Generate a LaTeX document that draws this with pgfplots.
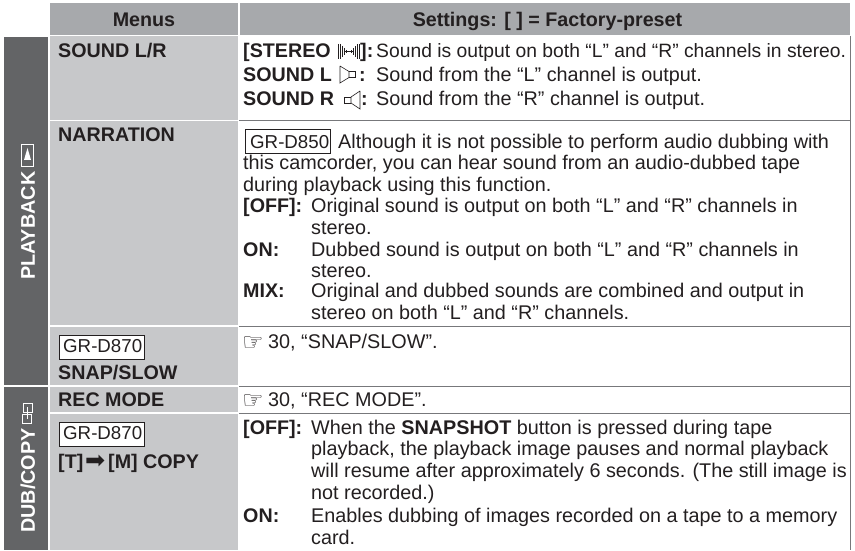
\documentclass[border=0pt]{standalone}
\usepackage{pgfplots}
\pgfplotsset{compat=1.18}
\usepackage{fontspec}
\setmainfont{Liberation Sans}
\newfontfamily\djv{DejaVu Sans}
\definecolor{hdr}{HTML}{A7A9AC}
\definecolor{lgt}{HTML}{C7C8CA}
\definecolor{drk}{HTML}{636466}
\definecolor{txt}{HTML}{231F20}
\definecolor{rule}{HTML}{77787B}
\newcommand{\T}[3]{\node[anchor=base west,inner sep=0pt,text=txt,font=\fontsize{19.8}{22}\selectfont] at (axis cs:#1,#2) {#3};}
\newcommand{\B}[3]{\node[anchor=base west,inner sep=0pt,text=txt,font=\fontsize{19.7}{22}\selectfont\bfseries] at (axis cs:#1,#2) {#3};}
\newcommand{\Cell}[2]{\addplot[fill=#1,draw=none,forget plot] coordinates {#2} --cycle;}
\newcommand{\R}[2]{\addplot[rule,line width=#1,forget plot] coordinates {#2};}
\newcommand{\GR}[7]{\addplot[fill=white,draw=txt,line width=0.9pt,forget plot] coordinates {(#1,#3)(#2,#3)(#2,#4)(#1,#4)} --cycle;
\node[anchor=base west,inner sep=0pt,text=txt,font=\fontsize{18.7}{20}\selectfont] at (axis cs:#5,#6) {#7};}
\newcommand{\Ln}[1]{\addplot[txt,line width=0.6pt,forget plot] coordinates {#1};}
\newcommand{\W}[1]{\addplot[white,line width=0.8pt,forget plot] coordinates {#1};}
\begin{document}
\begin{tikzpicture}
\begin{axis}[anchor=south west,at={(0,0)},scale only axis,width=855pt,height=550pt,xmin=0,xmax=855,ymin=0,ymax=550,y dir=reverse,hide axis,clip=false]
% header
\Cell{hdr}{(50,3)(238,3)(238,35)(50,35)}
\Cell{hdr}{(239.5,3)(850,3)(850,35)(239.5,35)}
% left
\Cell{drk}{(4,37)(48,37)(48,385)(4,385)}
\Cell{drk}{(4,387)(48,387)(48,550)(4,550)}
% menus
\Cell{lgt}{(50,36.5)(238,36.5)(238,120)(50,120)}
\Cell{lgt}{(50,121.5)(238,121.5)(238,325.5)(50,325.5)}
\Cell{lgt}{(50,327.5)(238,327.5)(238,385)(50,385)}
\Cell{lgt}{(50,387)(238,387)(238,412.5)(50,412.5)}
\Cell{lgt}{(50,414.5)(238,414.5)(238,550)(50,550)}
% rules
\R{0.8pt}{(239,120.5)(850,120.5)}
\R{0.8pt}{(239,326.5)(850,326.5)}
\R{0.8pt}{(239,386)(850,386)}
\R{0.8pt}{(239,413.5)(850,413.5)}
\R{0.8pt}{(850,36)(850,550)}
% header text
\node[anchor=base,font=\fontsize{19.7}{22}\selectfont\bfseries,text=txt] at (axis cs:144,27) {Menus};
\node[anchor=base,font=\fontsize{19.7}{22}\selectfont\bfseries,text=txt] at (axis cs:547.5,27) {Settings: [ ] = Factory-preset};
% menus text
\B{58}{58}{SOUND L/R}
\B{58}{141.5}{NARRATION}
\GR{59.5}{144}{335}{359}{63}{353}{GR-D870}
\B{58}{380}{SNAP/SLOW}
\B{58}{407}{REC MODE}
\GR{59.5}{144}{422}{446}{63}{440}{GR-D870}
\B{58}{469}{[T]}
\node[anchor=base west,inner sep=0pt,text=txt,font=\djv\fontsize{24}{24}\selectfont] at (axis cs:85,469) {➡};
\B{108}{469}{[M] COPY}
% settings
\B{243}{58}{[STEREO}
\B{360}{58}{]:}
\node[anchor=base west,inner sep=0pt,text=txt,font=\fontsize{19.3}{22}\selectfont] at (axis cs:376,58) {Sound is output on both “L” and “R” channels in stereo.};
\B{243}{82}{SOUND L}
\B{359}{82}{:}
\T{376}{82}{Sound from the “L” channel is output.}
\B{243}{106}{SOUND R}
\B{361}{106}{:}
\T{376}{106}{Sound from the “R” channel is output.}
% stereo icon
\Ln{(338,44)(338,59)}\Ln{(340,44)(340,59)}\Ln{(342,46)(342,57)}\Ln{(344,48)(344,55)}\Ln{(346,50)(346,53)}
\Ln{(344,51.5)(353,51.5)}
\Ln{(351,50)(351,53)}\Ln{(353,48)(353,55)}\Ln{(355,46)(355,57)}\Ln{(357,44)(357,59)}\Ln{(359,44)(359,59)}
% speakers
\Ln{(340,66)(340,83)(349,77.5)(349,71.5)(340,66)}
\Ln{(349,71.5)(355,71.5)(355,77.5)(349,77.5)}
\Ln{(360,91)(360,109)(351,103)(351,97)(360,91)}
\Ln{(351,97)(344,97)(344,103)(351,103)}
\GR{245}{330}{129}{153}{250}{149}{GR-D850}
\T{338}{149}{Although it is not possible to perform audio dubbing with}
\T{243}{170}{this camcorder, you can hear sound from an audio-dubbed tape}
\T{243}{192}{during playback using this function.}
\B{243}{213}{[OFF]:}
\T{311}{213}{Original sound is output on both “L” and “R” channels in}
\T{311}{235}{stereo.}
\B{243}{257}{ON:}
\T{311}{257}{Dubbed sound is output on both “L” and “R” channels in}
\T{311}{278}{stereo.}
\B{243}{298}{MIX:}
\T{311}{298}{Original and dubbed sounds are combined and output in}
\T{311}{320}{stereo on both “L” and “R” channels.}
\T{268}{349}{30, “SNAP/SLOW”.}
\T{268}{407}{30, “REC MODE”.}
\node[anchor=base west,inner sep=0pt,text=txt,font=\djv\fontsize{24}{24}\selectfont] at (axis cs:242,351) {☞};
\node[anchor=base west,inner sep=0pt,text=txt,font=\djv\fontsize{24}{24}\selectfont] at (axis cs:242,409) {☞};
\B{243}{435}{[OFF]:}
\T{311}{435}{When the \textbf{SNAPSHOT} button is pressed during tape}
\T{311}{456}{playback, the playback image pauses and normal playback}
\T{311}{478}{will resume after approximately 6 seconds. (The still image is}
\T{311}{500}{not recorded.)}
\B{243}{522}{ON:}
\T{311}{522}{Enables dubbing of images recorded on a tape to a memory}
\T{311}{544}{card.}
% rotated
\node[anchor=base west,rotate=90,inner sep=0pt,text=white,font=\fontsize{19.8}{22}\selectfont\bfseries] at (axis cs:35,280) {PLAYBACK};
\node[anchor=base west,rotate=90,inner sep=0pt,text=white,font=\fontsize{19.8}{22}\selectfont\bfseries] at (axis cs:35,533) {DUB/COPY};
% playback icon
\W{(21.5,144.5)(33.5,144.5)(33.5,166.5)(21.5,166.5)(21.5,144.5)}
\Cell{white}{(27.5,148)(31,160)(24,160)}
% dub icon
\W{(23,403)(32,403)(32,412)(23,412)(23,403)}
\W{(22,414)(31,414)(31,423)(22,423)(22,414)}
\W{(27.5,407)(27.5,419)}
\end{axis}
\path[use as bounding box] (0,0) rectangle (855pt,550pt);
\end{tikzpicture}
\end{document}
